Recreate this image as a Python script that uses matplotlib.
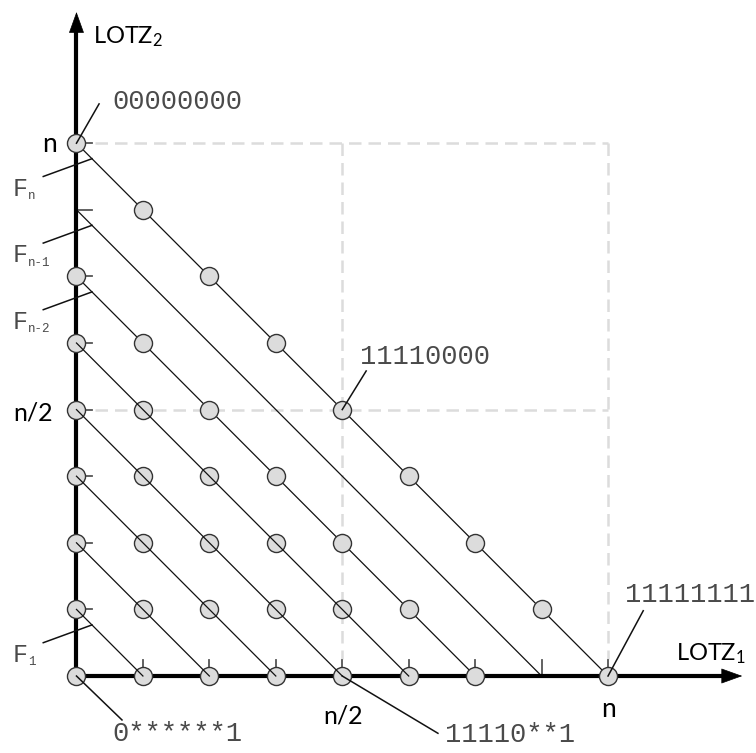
import matplotlib.pyplot as plt

plt.rcParams["mathtext.fontset"] = "custom"
plt.rcParams["mathtext.rm"] = "Lato"
plt.rcParams["mathtext.it"] = "Lato"

# LOTZ objective space, n = 8
n = 8

# fronts drawn as diagonal lines LOTZ1 + LOTZ2 = k
front_sums = [1, 2, 3, 4, 5, 6, 7, 8]

# feasible points (LOTZ1, LOTZ2)
lo_points = [0, 1, 2, 3, 4, 5, 6, 8,
             0, 1, 2, 3, 4, 5, 7,
             0, 1, 2, 3, 4, 6,
             0, 1, 2, 3, 5,
             0, 1, 2, 4,
             0, 1, 3,
             0, 2,
             1,
             0]
tz_points = [0, 0, 0, 0, 0, 0, 0, 0,
             1, 1, 1, 1, 1, 1, 1,
             2, 2, 2, 2, 2, 2,
             3, 3, 3, 3, 3,
             4, 4, 4, 4,
             5, 5, 5,
             6, 6,
             7,
             8]

tick_vals = [1, 2, 3, 4, 5, 6, 7, 8]

# bit strings pointing at some points
bit_labels = ["00000000", "11110000", "11111111", "11110**1", "0******1"]
bit_lo = [0, 4, 8, 4, 0]
bit_tz = [8, 4, 0, 0, 0]

# front names on the left
front_names = ["n", "n-1", "n-2", "1"]
front_levels = [8, 7, 6, 1]

fig = plt.figure(figsize=(7.56, 7.53), dpi=100)
ax = fig.add_axes([0, 0, 1, 1])
ax.set_xlim(-1.151, 10.227)
ax.set_ylim(-1.156, 10.15)
ax.axis("off")

mono = "Liberation Mono"
sans = "Lato"
grey_txt = "#4a4a4a"

# light dashed guides at n and n/2
dash = dict(color="#dcdcdc", lw=1.8, dashes=(5, 2.8), zorder=1)
ax.plot([0.28, n], [n, n], **dash)
ax.plot([0.28, n], [n / 2, n / 2], **dash)
ax.plot([n / 2, n / 2], [n, 0.25], **dash)
ax.plot([n, n], [n, 0.25], **dash)

# diagonal fronts
for k in front_sums:
    ax.plot([0, k], [k, 0], color="#111111", lw=0.9, zorder=5 if k <= 5 else 2)

# small ticks
for v in tick_vals:
    ax.plot([0, 0.24], [v, v], color="#555555", lw=1.3, zorder=2)
    ax.plot([v, v], [0, 0.24], color="#555555", lw=1.3, zorder=2)

# axes with arrow heads
ax.plot([0, 0], [0, 9.75], color="k", lw=3, solid_capstyle="butt", zorder=3)
ax.plot([0, 9.8], [0, 0], color="k", lw=3, solid_capstyle="butt", zorder=3)
head = dict(arrowstyle="-|>,head_length=1.0,head_width=0.36", mutation_scale=14,
            color="k", lw=0.5, shrinkA=0, shrinkB=0)
ax.annotate("", xy=(0, 9.97), xytext=(0, 9.6), arrowprops=head, zorder=3)
ax.annotate("", xy=(10.02, 0), xytext=(9.6, 0), arrowprops=head, zorder=3)

# points
ax.scatter(lo_points, tz_points, s=13 ** 2, facecolor="#dcdcdc",
           edgecolor="#333333", linewidths=1, zorder=4)

# bit string labels + leader lines
label_pos = [(0.534, 8.62), (4.27, 4.79), (8.26, 1.22), (5.55, -0.89), (0.534, -0.87)]
leader_start = [(0.34, 8.59), (4.36, 4.58), (8.53, 0.98), (5.44, -0.86), (0.685, -0.66)]
for s, x, y, (tx, ty), (lx, ly) in zip(bit_labels, bit_lo, bit_tz, label_pos, leader_start):
    ax.plot([lx, x], [ly, y], color="#111111", lw=1.1, zorder=6)
    ax.text(tx, ty, s, family=mono, fontsize=19.5, color=grey_txt,
            ha="left", va="center")

# front names F_k with leaders
for name, k in zip(front_names, front_levels):
    ax.plot([-0.5, 0.233], [k - 0.5, k - 0.233], color="#111111", lw=1.1, zorder=6)
    ax.text(-0.965, k - 0.79, "F", family=mono, fontsize=18, color=grey_txt,
            ha="left", va="baseline")
    ax.text(-0.735, k - 0.84, name, family=mono, fontsize=9, color=grey_txt,
            ha="left", va="baseline")

# axis tick labels
ax.text(-0.40, 7.87, "n", family=sans, fontsize=19, ha="center", va="baseline")
ax.text(-0.655, 3.84, "n/2", family=sans, fontsize=18, ha="center", va="baseline")
ax.text(4.01, -0.706, "n/2", family=sans, fontsize=18, ha="center", va="baseline")
ax.text(8.0, -0.616, "n", family=sans, fontsize=19, ha="center", va="baseline")

# axis names
ax.text(0.25, 9.5, r"$\mathrm{LOTZ}_2$", fontsize=17, ha="left", va="baseline")
ax.text(9.03, 0.24, r"$\mathrm{LOTZ}_1$", fontsize=17, ha="left", va="baseline")

fig.savefig("out.png", dpi=100)
